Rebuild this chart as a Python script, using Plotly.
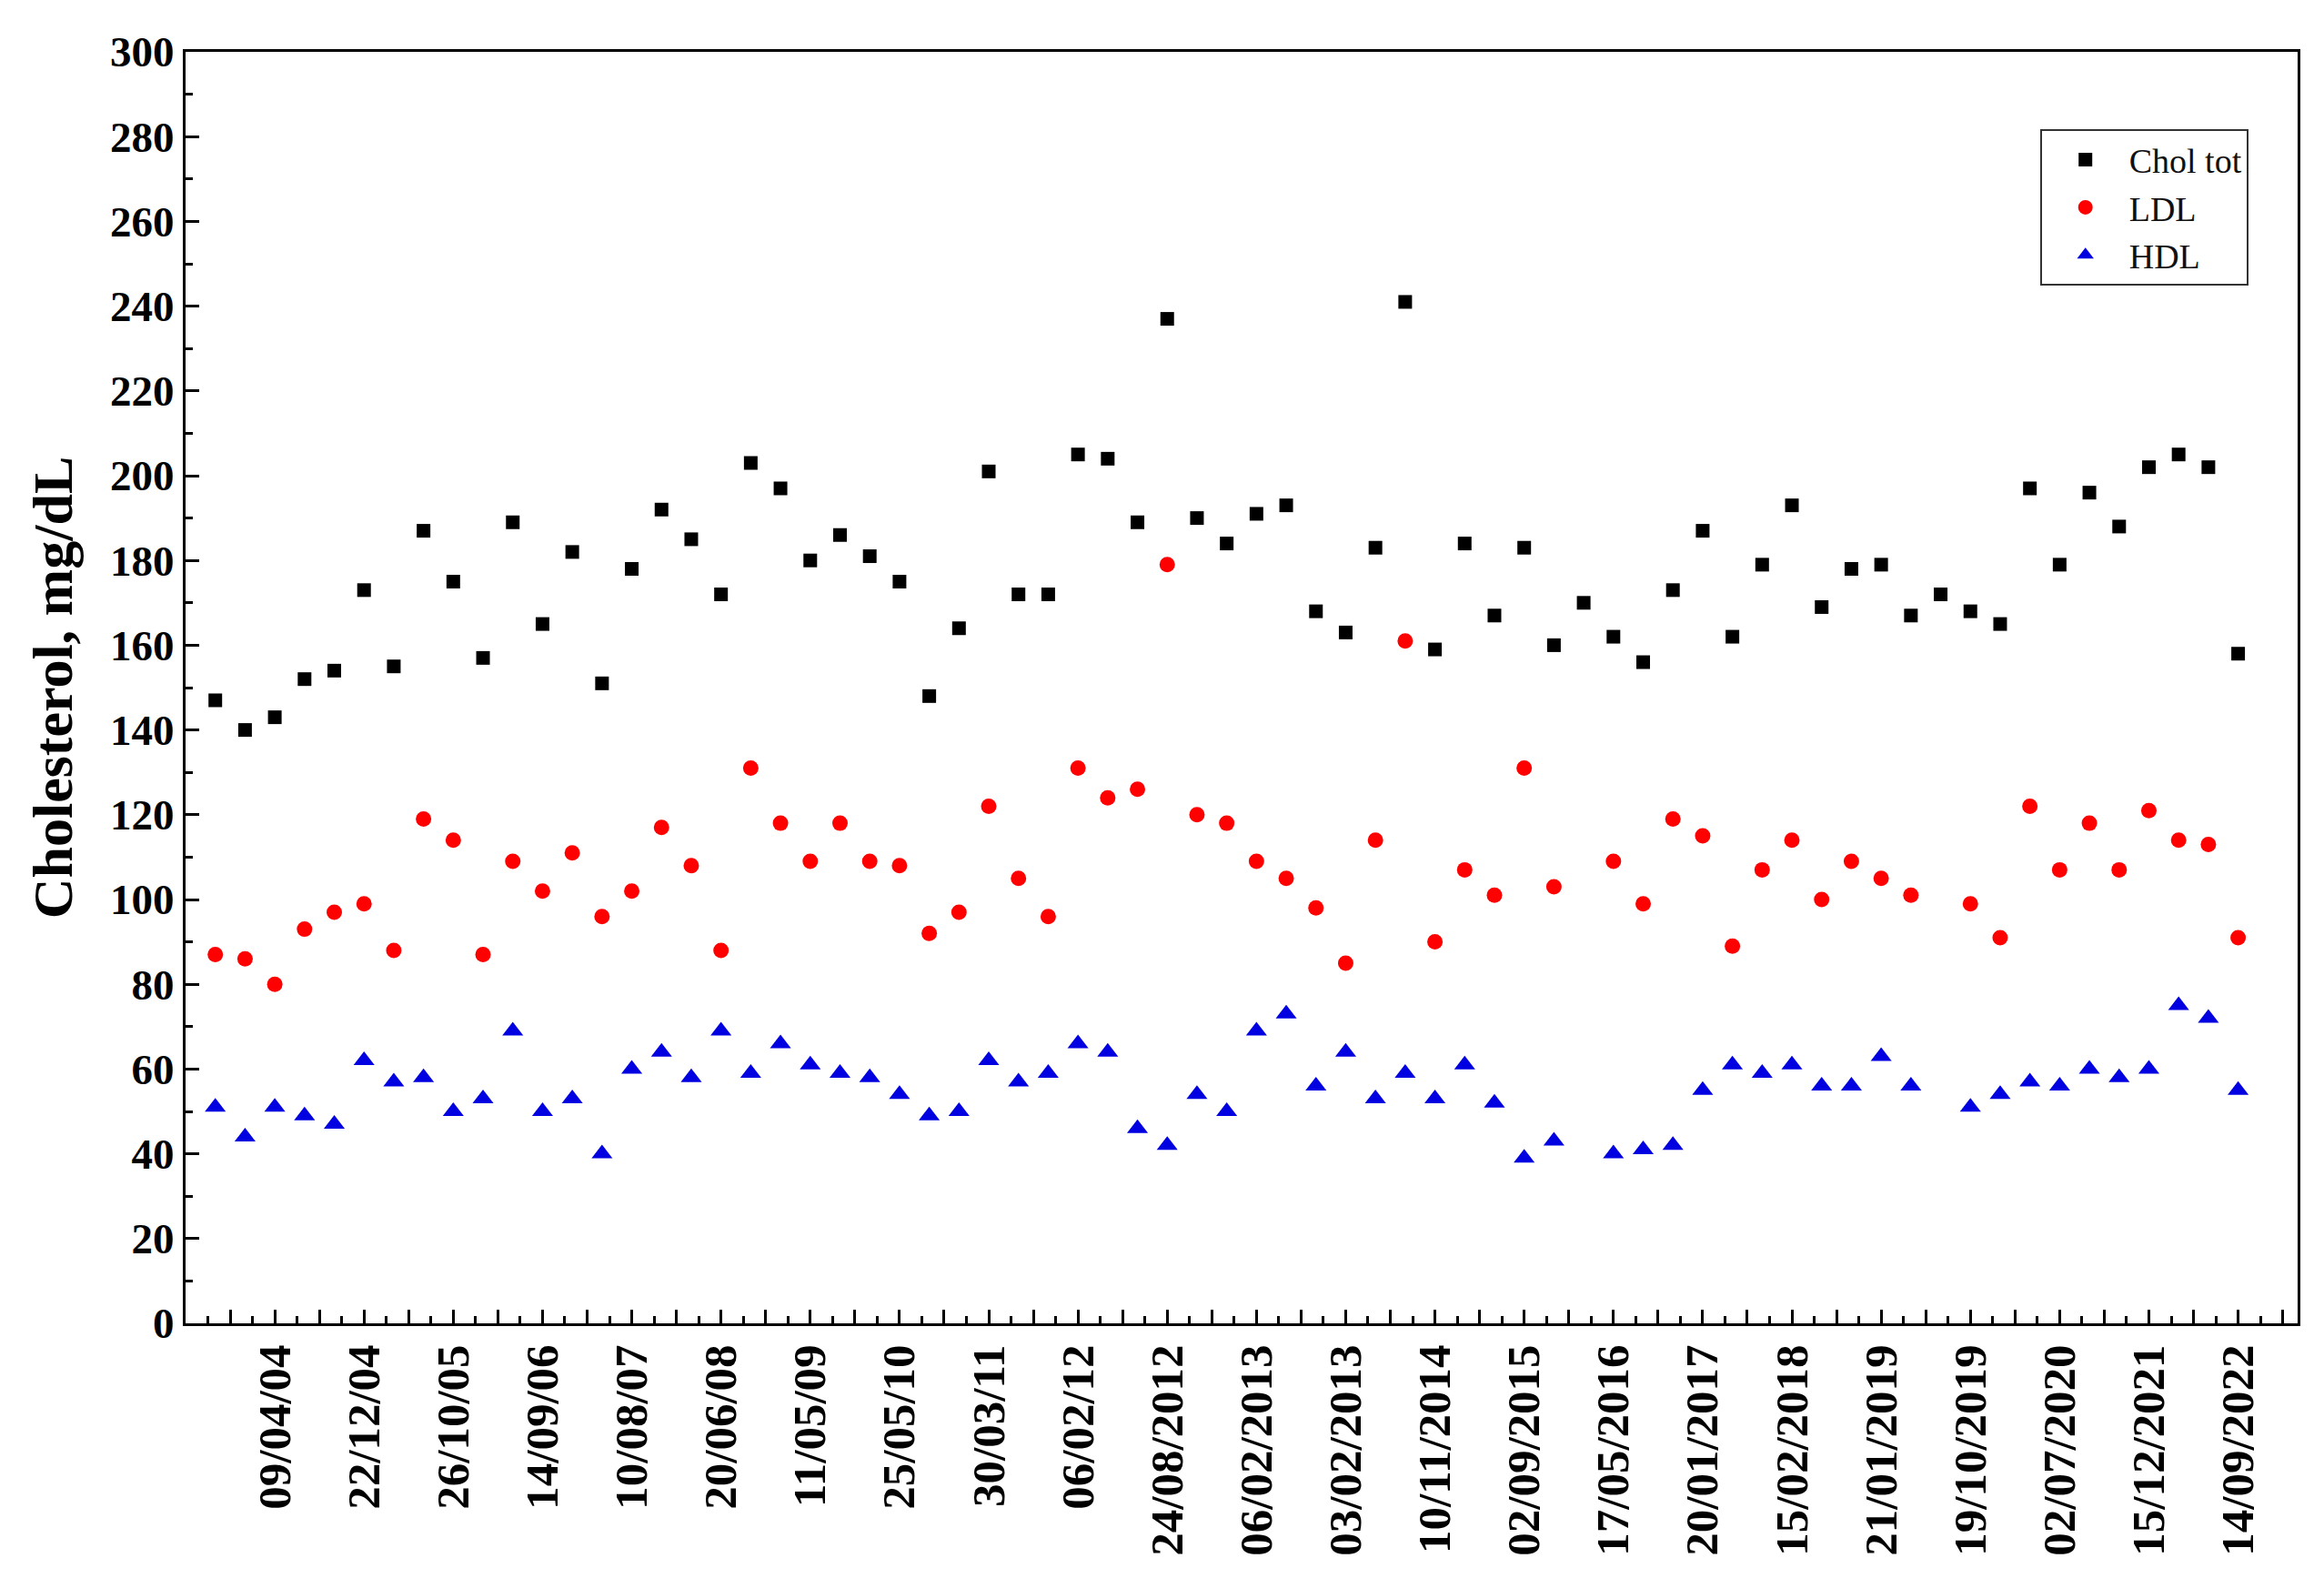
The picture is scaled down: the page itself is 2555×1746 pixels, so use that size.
import plotly.graph_objects as go

# ---- data ----
visit = list(range(69))
chol_tot = [147,140,143,152,154,173,155,187,175,157,
            189,165,182,151,178,192,185,172,203,197,
            180,186,181,175,148,164,201,172,172,205,
            204,189,237,190,184,191,193,168,163,183,
            241,159,184,167,183,160,170,162,156,173,
            187,162,179,193,169,178,179,167,172,168,
            165,197,179,196,188,202,205,202,158]
ldl = [87,86,80,93,97,99,88,119,114,87,
       109,102,111,96,102,117,108,88,131,118,
       109,118,109,108,92,97,122,105,96,131,
       124,126,179,120,118,109,105,98,85,114,
       161,90,107,101,131,103,None,109,99,119,
       115,89,107,114,100,109,105,101,None,99,
       91,122,107,118,107,121,114,113,91]
hdl = [51,44,51,49,47,62,57,58,50,53,
       69,50,53,40,60,64,58,69,59,66,
       61,59,58,54,49,50,62,57,59,66,
       64,46,42,54,50,69,73,56,64,53,
       59,53,61,52,39,43,None,40,41,42,
       55,61,59,61,56,56,63,56,None,51,
       54,57,56,60,58,60,75,72,55]
date_labels = ["09/04/04","22/12/04","26/10/05","14/09/06","10/08/07","20/06/08",
               "11/05/09","25/05/10","30/03/11","06/02/12","24/08/2012","06/02/2013",
               "03/02/2013","10/11/2014","02/09/2015","17/05/2016","20/01/2017",
               "15/02/2018","21/01/2019","19/10/2019","02/07/2020","15/12/2021","14/09/2022"]
label_step = 3
label_start = 2

# tick positions (major every 1.5 visits, labels every 3 visits)
major_vals = [0.5 + 1.5 * k for k in range(47)]
major_text = []
for v in major_vals:
    q = (v - label_start) / label_step
    if v >= label_start and abs(q - round(q)) < 1e-9:
        major_text.append(date_labels[int(round(q))])
    else:
        major_text.append("")
minor_vals = [v - 0.75 for v in major_vals] + [major_vals[-1] + 0.75]

serif = "Liberation Serif, Times New Roman, serif"

fig = go.Figure()
fig.add_trace(go.Scatter(x=visit, y=chol_tot, mode="markers", name="Chol tot",
                         marker=dict(symbol="square", size=15, color="#000000")))
fig.add_trace(go.Scatter(x=visit, y=ldl, mode="markers", name="LDL",
                         marker=dict(symbol="circle", size=17, color="#FF0000")))
fig.add_trace(go.Scatter(x=visit, y=hdl, mode="markers", name="HDL",
                         marker=dict(symbol="triangle-up", size=20, color="#0000E0")))

# page body has an 8px default margin, so the figure is sized to fit the window
fig.update_layout(
    width=2547, height=1738,
    margin=dict(l=196, r=29, t=49, b=291),
    paper_bgcolor="white", plot_bgcolor="white",
    font=dict(family=serif, color="black"),
    showlegend=True,
    legend=dict(x=0.878, y=0.939, xanchor="left", yanchor="top",
                bgcolor="white", bordercolor="#333333", borderwidth=2,
                font=dict(family=serif, size=38, color="#111111"),
                itemsizing="trace", itemwidth=86),
    xaxis=dict(range=[-1, 70], showgrid=False, zeroline=False, automargin=False,
               showline=True, linecolor="black", linewidth=3, mirror=True,
               tickmode="array", tickvals=major_vals, ticktext=major_text,
               ticks="inside", ticklen=15, tickwidth=3, tickcolor="black",
               tickangle=-90, ticklabelstandoff=0,
               tickfont=dict(family=serif, size=51, color="black", weight="bold"),
               minor=dict(tickmode="array", tickvals=minor_vals, ticks="inside",
                          ticklen=8, tickwidth=3, tickcolor="black")),
    yaxis=dict(range=[0, 300], showgrid=False, zeroline=False, automargin=False,
               showline=True, linecolor="black", linewidth=3, mirror=True,
               tickmode="linear", tick0=0, dtick=20,
               ticks="inside", ticklen=15, tickwidth=3, tickcolor="black",
               ticklabelstandoff=0,
               tickfont=dict(family=serif, size=47, color="black", weight="bold"),
               minor=dict(dtick=10, ticks="inside", ticklen=8, tickwidth=3, tickcolor="black"),
               title=dict(text="Cholesterol, mg/dL", standoff=22,
                          font=dict(family=serif, size=62, color="black", weight="bold"))),
)

fig.write_html("out.html")
